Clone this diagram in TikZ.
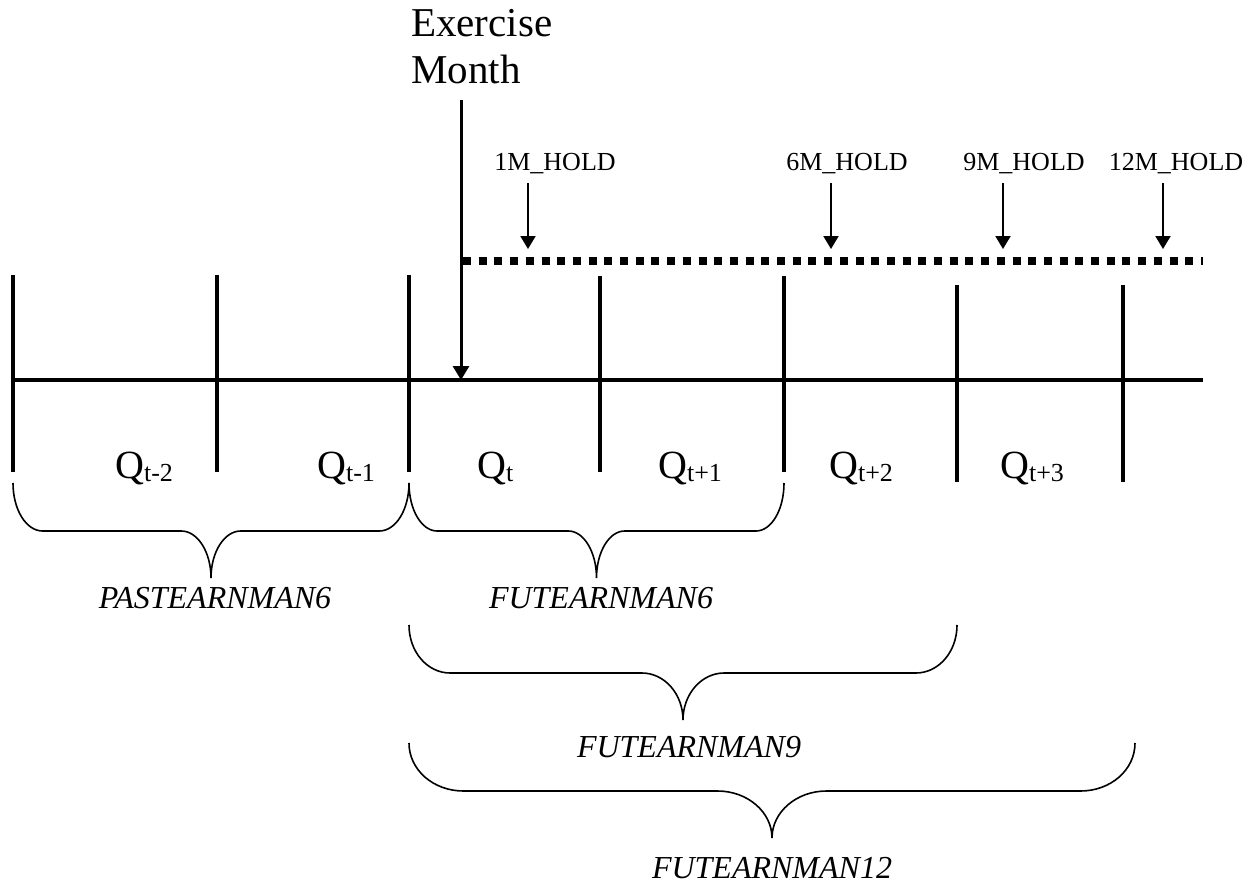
\documentclass[tikz,border=0pt]{standalone}
\usepackage{fontspec}
\setmainfont{Liberation Serif}
\usetikzlibrary{arrows.meta}
\newcommand\qlab[1]{Q\raisebox{-3.5pt}{\fontsize{26}{30}\selectfont #1}}
\newcommand\curlybrace[3]{%
  \pgfmathsetmacro\brC{(#1+#2)/2}%
  \pgfmathsetmacro\brW{0.15*(#2-#1)/2}%
  \pgfmathsetmacro\brM{#3+48}%
  \pgfmathsetmacro\brP{#3+95}%
  \draw[bracestyle] (#1,#3) .. controls (#1,#3+27) and (#1+0.45*\brW,\brM) .. (#1+\brW,\brM)
    -- (\brC-\brW,\brM) .. controls (\brC-0.45*\brW,\brM) and (\brC,\brM+21) .. (\brC,\brP)
    .. controls (\brC,\brM+21) and (\brC+0.45*\brW,\brM) .. (\brC+\brW,\brM)
    -- (#2-\brW,\brM) .. controls (#2-0.45*\brW,\brM) and (#2,#3+27) .. (#2,#3);}
\begin{document}
\begin{tikzpicture}[x=1pt,y=-1pt,
  axis/.style={line width=3.5pt},
  tick/.style={line width=3.5pt},
  bracestyle/.style={line width=1.6pt},
  holdarrow/.style={line width=2pt,-{Triangle[width=15pt,length=13pt]}},
  exarrow/.style={line width=3pt,-{Triangle[width=16pt,length=14pt]}},
  dots/.style={line width=8pt,dash pattern=on 8pt off 7.7pt},
  qlabel/.style={anchor=base west,inner sep=0pt,font=\fontsize{40}{48}\selectfont},
  holdlabel/.style={anchor=base,inner sep=0pt,font=\fontsize{26}{30}\selectfont},
  varlabel/.style={anchor=base,inner sep=0pt,font=\fontsize{32}{38}\selectfont\itshape}]
\path[use as bounding box] (0,0) rectangle (1255,886);

% main time line
\coordinate (la) at (12,380);
\coordinate (lb) at (1203,380);
\draw[axis] (la) -- (lb);

% ticks
\foreach \n/\x/\a/\b in {t1/13/275/472, t2/217/275/472, t3/409/275/472, t4/600/276/472,
                         t5/784/276/472, t6/957/285/482, t7/1123/285/482}{
  \coordinate (\n a) at (\x,\a);
  \coordinate (\n b) at (\x,\b);
  \draw[tick] (\n a) -- (\n b);
}

% dotted holding line
\coordinate (da) at (463,261);
\coordinate (db) at (1203,261);
\draw[dots] (da) -- (db);

% exercise month
\node[anchor=north west,inner sep=0pt,align=left,font=\fontsize{41}{47}\selectfont] (ex) at (411,9) {Exercise\\Month};
\coordinate (exa) at (461,100);
\coordinate (exb) at (461,380);
\draw[exarrow] (exa) -- (exb);

% holding labels and arrows
\node[holdlabel] (h1) at (555,170) {1M\_HOLD};
\node[holdlabel] (h6) at (847,170) {6M\_HOLD};
\node[holdlabel] (h9) at (1024,170) {9M\_HOLD};
\node[holdlabel] (h12) at (1176,170) {12M\_HOLD};
\foreach \n/\x in {h1/528, h6/831, h9/1003, h12/1163}{
  \coordinate (\n a) at (\x,183);
  \coordinate (\n b) at (\x,249);
  \draw[holdarrow] (\n a) -- (\n b);
}

% quarter labels
\node[qlabel] (q1) at (115,478) {\qlab{t-2}};
\node[qlabel] (q2) at (317,478) {\qlab{t-1}};
\node[qlabel] (q3) at (477,478) {\qlab{t}};
\node[qlabel] (q4) at (658,478) {\qlab{t+1}};
\node[qlabel] (q5) at (829,478) {\qlab{t+2}};
\node[qlabel] (q6) at (1000,478) {\qlab{t+3}};

% braces
\curlybrace{13}{409}{483}
\curlybrace{409}{784}{483}
\curlybrace{409}{957}{625}
\curlybrace{409}{1135}{743}

% brace labels
\node[varlabel] (p6) at (215,608) {PASTEARNMAN6};
\node[varlabel] (f6) at (601,608) {FUTEARNMAN6};
\node[varlabel] (f9) at (689,757) {FUTEARNMAN9};
\node[varlabel] (f12) at (772,878) {FUTEARNMAN12};
\end{tikzpicture}
\end{document}
